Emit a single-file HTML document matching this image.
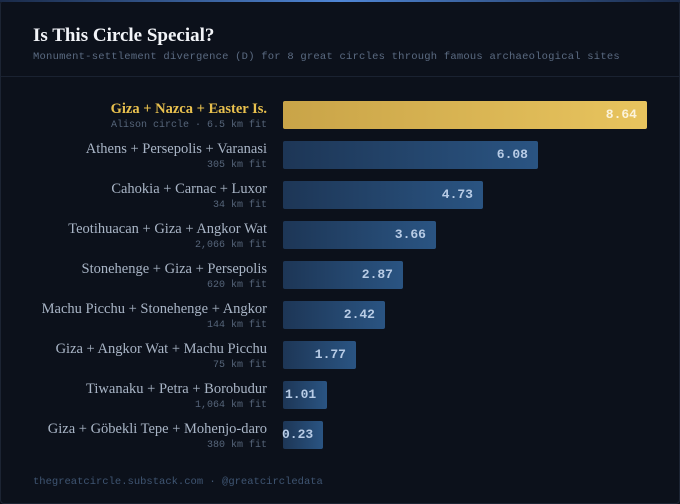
<!DOCTYPE html>
<html><head><meta charset="utf-8"><style>
*{margin:0;padding:0;box-sizing:border-box}
body{width:680px;height:504px;background:#0b0f18;overflow:hidden;position:relative;font-family:"Liberation Sans",sans-serif}
.card{position:absolute;left:0;top:0;width:680px;height:504px;border:1px solid #1c2433;border-radius:4px;background:#0c111b}
.topline{position:absolute;left:0;top:0;width:680px;height:2px;background:linear-gradient(90deg,#1a2a48,#4f86d6 50%,#1a2a48)}
.title{position:absolute;left:33px;top:25px;font-family:"Liberation Serif",serif;font-weight:bold;font-size:19px;color:#f2f4f8}
.sub{position:absolute;left:33px;top:51px;font-family:"Liberation Mono",monospace;font-size:10.5px;letter-spacing:0.22px;color:#5b6b82}
.div{position:absolute;left:1px;top:76px;width:678px;height:1px;background:#1a2231}
.row{position:absolute;left:0;width:680px;height:40px}
.lab{position:absolute;right:413px;top:0;text-align:right;white-space:nowrap}
.n{font-family:"Liberation Serif",serif;font-size:14.5px;color:#a9b5c6;line-height:16px}
.s{font-family:"Liberation Mono",monospace;font-size:10px;color:#56657a;line-height:13px;margin-top:2px}
.bar{position:absolute;left:283px;top:0;height:28px;border-radius:2px;background:linear-gradient(90deg,#1d3656,#2a5482);font-family:"Liberation Mono",monospace;font-weight:bold;font-size:13px;color:#b8cce6;text-align:right;line-height:28px;padding-right:10px}
.gold .n{color:#e8c04e;font-weight:bold}
.gold .bar{background:linear-gradient(90deg,#c9a448,#e8c45e);color:#fbf3dc}
.foot{position:absolute;left:33px;top:476px;font-family:"Liberation Mono",monospace;font-size:10.5px;color:#3f5572}
</style></head><body>
<div class="card"></div>
<div class="topline"></div>
<div class="title">Is This Circle Special?</div>
<div class="sub">Monument-settlement divergence (D) for 8 great circles through famous archaeological sites</div>
<div class="div"></div>

<div class="row gold" style="top:101px"><div class="lab"><div class="n">Giza + Nazca + Easter Is.</div><div class="s">Alison circle · 6.5 km fit</div></div><div class="bar" style="width:364px">8.64</div></div>
<div class="row" style="top:141px"><div class="lab"><div class="n">Athens + Persepolis + Varanasi</div><div class="s">305 km fit</div></div><div class="bar" style="width:255px">6.08</div></div>
<div class="row" style="top:181px"><div class="lab"><div class="n">Cahokia + Carnac + Luxor</div><div class="s">34 km fit</div></div><div class="bar" style="width:200px">4.73</div></div>
<div class="row" style="top:221px"><div class="lab"><div class="n">Teotihuacan + Giza + Angkor Wat</div><div class="s">2,066 km fit</div></div><div class="bar" style="width:153px">3.66</div></div>
<div class="row" style="top:261px"><div class="lab"><div class="n">Stonehenge + Giza + Persepolis</div><div class="s">620 km fit</div></div><div class="bar" style="width:120px">2.87</div></div>
<div class="row" style="top:301px"><div class="lab"><div class="n">Machu Picchu + Stonehenge + Angkor</div><div class="s">144 km fit</div></div><div class="bar" style="width:102px">2.42</div></div>
<div class="row" style="top:341px"><div class="lab"><div class="n">Giza + Angkor Wat + Machu Picchu</div><div class="s">75 km fit</div></div><div class="bar" style="width:73px">1.77</div></div>
<div class="row" style="top:381px"><div class="lab"><div class="n">Tiwanaku + Petra + Borobudur</div><div class="s">1,064 km fit</div></div><div class="bar" style="width:44px;padding-right:0;text-align:left;padding-left:2px">1.01</div></div>
<div class="row" style="top:421px"><div class="lab"><div class="n">Giza + Göbekli Tepe + Mohenjo-daro</div><div class="s">380 km fit</div></div><div class="bar" style="width:40px;padding:0;text-align:left;text-indent:-1px">0.23</div></div>

<div class="foot">thegreatcircle.substack.com · @greatcircledata</div>
</body></html>
